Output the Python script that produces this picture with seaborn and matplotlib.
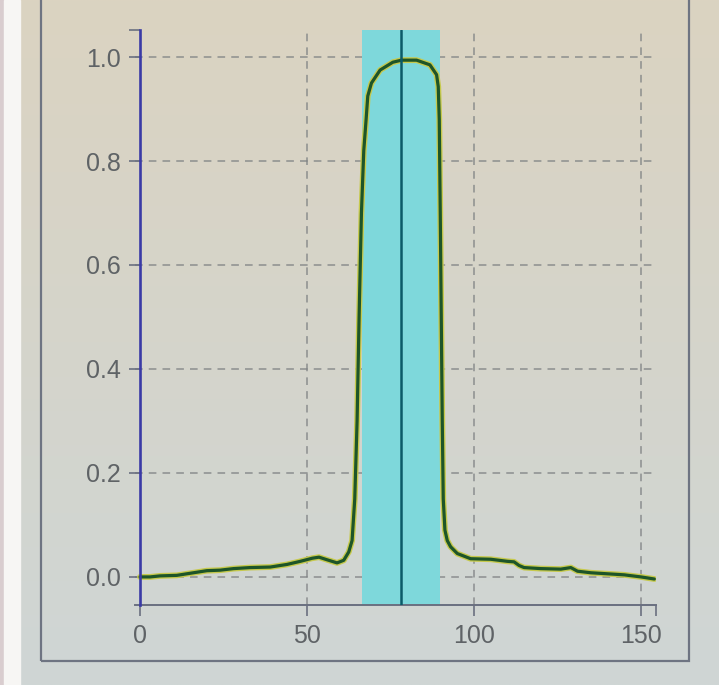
import numpy as np
import pandas as pd
import matplotlib
matplotlib.use("Agg")
import matplotlib.pyplot as plt
from matplotlib.patches import Rectangle
import seaborn as sns

# profile
position = [0, 3, 6, 11, 16, 20, 24, 28, 33, 39, 44, 48, 51.6, 53.6, 56, 59,
            61, 62.5, 63.5, 64.3, 65.0, 65.6, 66.3, 67.0, 67.7, 68.2, 69.3,
            71.9, 75.7, 78.3, 82.8, 86.8, 88.8, 89.3, 89.6, 89.9, 90.2, 90.5,
            90.8, 91.3, 92, 93, 95, 99, 105, 110, 112, 113.5, 115, 120, 126,
            129, 131, 135, 140, 145, 150, 154]
intensity = [0.0, 0.0, 0.002, 0.003, 0.008, 0.012, 0.013, 0.016, 0.018, 0.019,
             0.024, 0.03, 0.036, 0.038, 0.033, 0.027, 0.032, 0.048, 0.07, 0.15,
             0.3, 0.5, 0.7, 0.82, 0.88, 0.925, 0.95, 0.975, 0.99, 0.994, 0.994,
             0.985, 0.966, 0.943, 0.88, 0.7, 0.5, 0.3, 0.15, 0.09, 0.07, 0.058,
             0.045, 0.035, 0.034, 0.03, 0.029, 0.022, 0.018, 0.016, 0.015,
             0.018, 0.011, 0.008, 0.006, 0.004, 0.0, -0.004]

window_lo, window_hi = 66.5, 89.8
window_center = 78.1

x_ticks = [0, 50, 100, 150]
y_ticks = [0.0, 0.2, 0.4, 0.6, 0.8, 1.0]
x_range = (-1.5, 154.5)
y_range = (-0.054, 1.052)

df = pd.DataFrame({"position": position, "intensity": intensity})

sns.set_style("ticks")
plt.rcParams["font.family"] = ["Liberation Sans", "DejaVu Sans"]

fig = plt.figure(figsize=(7.19, 6.85), dpi=100)

# photo-like background
bg = fig.add_axes([0, 0, 1, 1], zorder=-10)
top_c = np.array([219, 211, 193]) / 255
bot_c = np.array([207, 214, 213]) / 255
t = np.linspace(0, 1, 256)[:, None, None]
grad = top_c * (1 - t) + bot_c * t
grad = np.repeat(grad, 4, axis=1)
bg.imshow(grad, aspect="auto", extent=[0, 1, 0, 1], origin="upper")
bg.set_xlim(0, 1)
bg.set_ylim(0, 1)
bg.axis("off")

fig.patches.append(Rectangle((0.0, 0.0), 4 / 719, 1, transform=fig.transFigure,
                             color="#d9cdcf", zorder=-5))
fig.patches.append(Rectangle((4 / 719, 0.0), 16 / 719, 1, transform=fig.transFigure,
                             color="#f7f6f4", zorder=-5))
# screen frame (top edge runs off the photo)
fig.patches.append(Rectangle((41 / 719, 1 - 661 / 685), 648 / 719, 700 / 685,
                             transform=fig.transFigure, fill=False,
                             edgecolor="#6e7482", lw=1.6, zorder=-4))

ax = fig.add_axes([135 / 719, 1 - 605 / 685, 521 / 719, 575 / 685])
ax.set_facecolor("none")

ax.axvspan(window_lo, window_hi, color="#7ed8db", zorder=1, lw=0)
ax.axvline(window_center, color="#0b5a68", lw=1.8, zorder=4)

sns.lineplot(data=df, x="position", y="intensity", ax=ax, color="#c6c94c",
             lw=4.2, zorder=2)
sns.lineplot(data=df, x="position", y="intensity", ax=ax, color="#1d5529",
             lw=2.3, zorder=3)

ax.set_xlim(*x_range)
ax.set_ylim(*y_range)
ax.set_xticks(x_ticks)
ax.set_yticks(y_ticks)
ax.set_xticklabels([str(v) for v in x_ticks])
ax.set_yticklabels([f"{v:.1f}" for v in y_ticks])
ax.set_xlabel("")
ax.set_ylabel("")

# end caps of the axis lines
ax.set_yticks([y_range[1]], minor=True)
ax.set_xticks([x_range[1]], minor=True)

ax.grid(True, which="major", ls=(0, (5, 4)), color="#7f8284", lw=1.1, alpha=0.85)
for gl in ax.get_xgridlines() + ax.get_ygridlines():
    gl.set_zorder(1.5)
ax.get_xgridlines()[0].set_visible(False)

ax.spines["left"].set_position(("data", 0))
ax.spines["left"].set_color("#3a3aa6")
ax.spines["left"].set_linewidth(1.9)
ax.spines["left"].set_zorder(5)
ax.spines["bottom"].set_color("#6a7080")
ax.spines["bottom"].set_linewidth(1.4)
ax.spines["top"].set_visible(False)
ax.spines["right"].set_visible(False)

ax.tick_params(axis="both", which="both", length=8, width=1.2,
               color="#6a7080", labelcolor="#5f6366", labelsize=18, pad=6)

fig.savefig("out.png", dpi=100)
